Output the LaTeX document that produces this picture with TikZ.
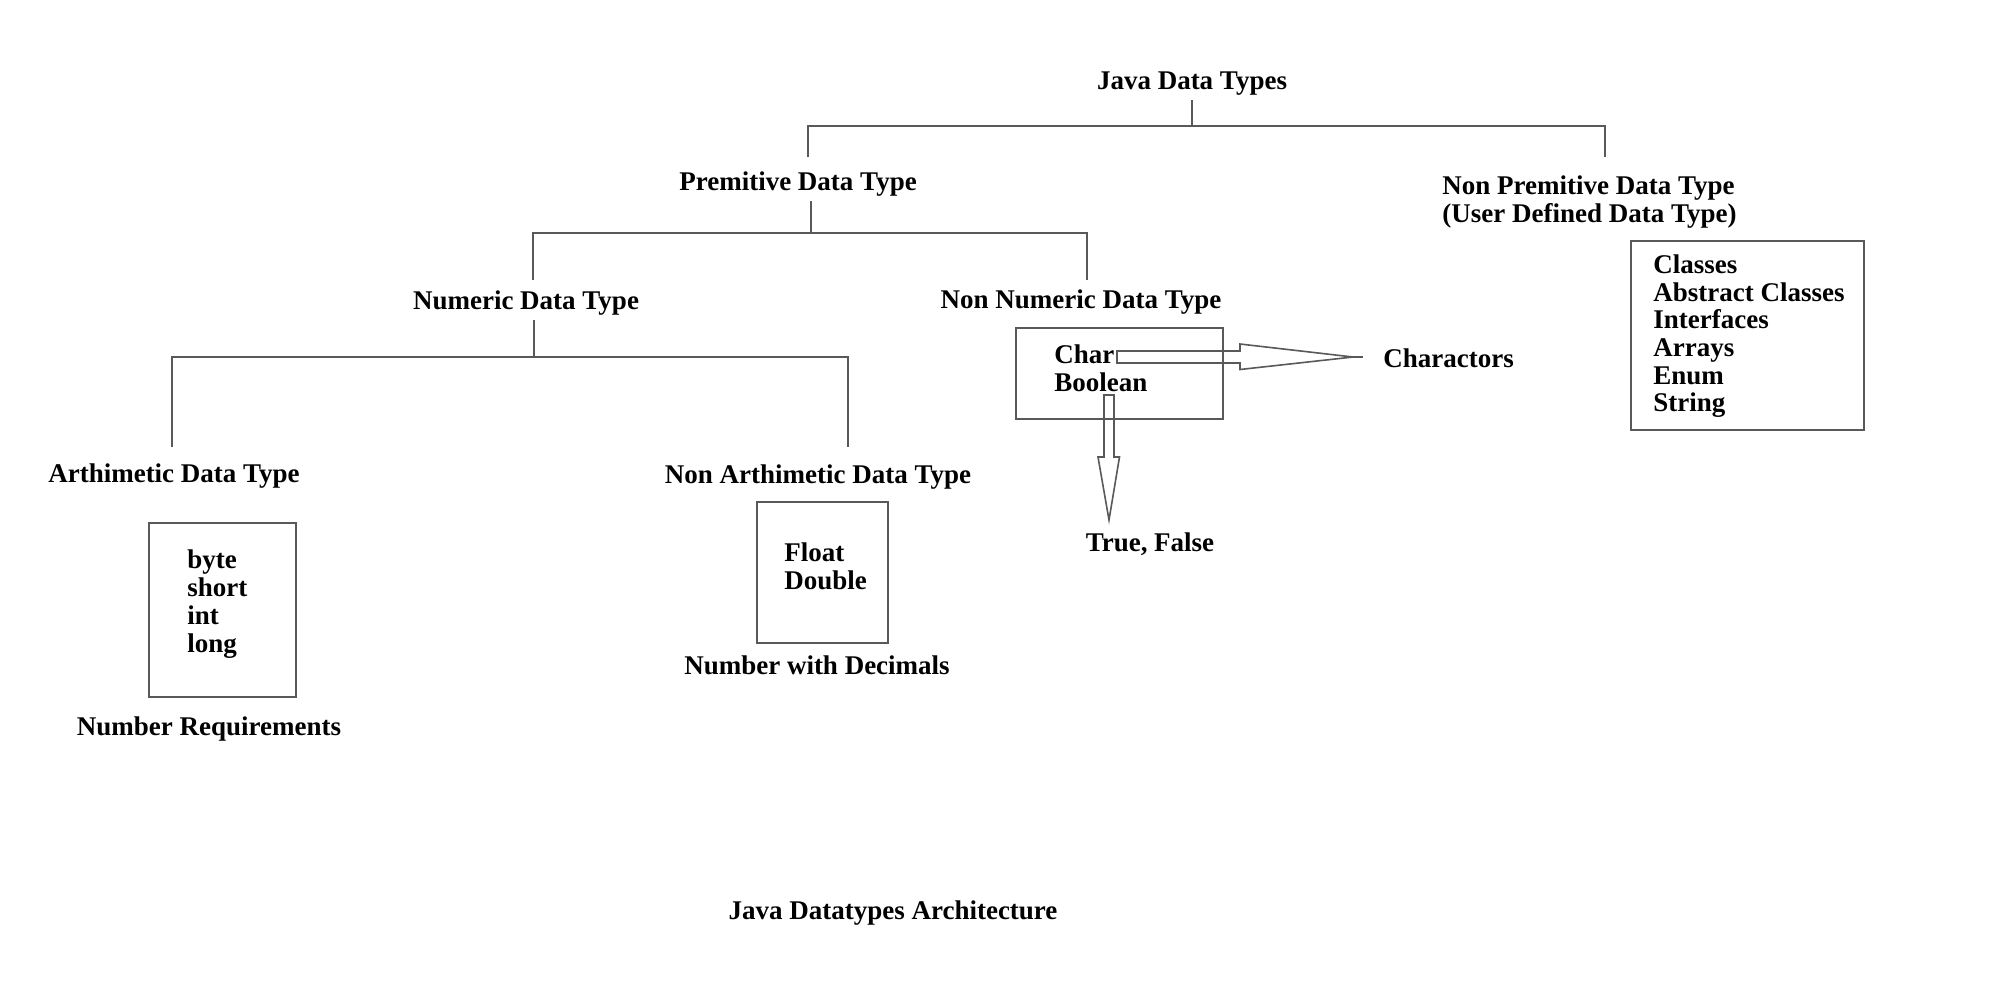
\documentclass[tikz,border=0pt]{standalone}
\usepackage{fontspec}
\setmainfont{Liberation Serif}

\begin{document}
\begin{tikzpicture}[x=0.5pt,y=-0.5pt,
		lbl/.style={font=\fontsize{13.5}{16}\selectfont\bfseries, anchor=base, inner sep=2.5pt},
		item/.style={font=\fontsize{13.5}{16}\selectfont\bfseries, anchor=base west, inner sep=0pt},
		conn/.style={draw=black!65, line width=1pt},
		box/.style={draw=black!65, line width=1pt},
		blk/.style={draw=black!65, line width=0.8pt, line join=miter}]
		%draw canvas
		\fill[white] (0,0) rectangle (1999,993);
		\useasboundingbox (0,0) rectangle (1999,993);
		%draw tree labels
		\node[lbl] (java) at (1192,89) {Java Data Types};
		\node[lbl] (prim) at (798,190) {Premitive Data Type};
		\node[item] (nprima) at (1442,194) {Non Premitive Data Type};
		\node[item] (nprimb) at (1442,222.5) {(User Defined Data Type)};
		\node[lbl] (num) at (526,309) {Numeric Data Type};
		\node[lbl] (nnum) at (1081,308) {Non Numeric Data Type};
		\node[lbl] (ari) at (174,482) {Arthimetic Data Type};
		\node[lbl] (nari) at (818,483) {Non Arthimetic Data Type};
		%draw branch points
		\coordinate (jbar) at (1192,126);
		\coordinate (primtop) at (808,157);
		\coordinate (nprimtop) at (1605,157);
		\coordinate (pbar) at (811,233);
		\coordinate (numtop) at (533,280);
		\coordinate (nnumtop) at (1087,280);
		\coordinate (nbar) at (534,357);
		\coordinate (aritop) at (172,447);
		\coordinate (naritop) at (848,447);
		%draw tree lines
		\draw[conn] (java.south) -- (jbar);
		\draw[conn] (primtop) |- (jbar) -| (nprimtop);
		\draw[conn] (prim.south -| pbar) -- (pbar);
		\draw[conn] (numtop) |- (pbar) -| (nnumtop);
		\draw[conn] (num.south -| nbar) -- (nbar);
		\draw[conn] (aritop) |- (nbar) -| (naritop);
		%draw boxes
		\draw[box] (149,523) rectangle (296,697);
		\draw[box] (757,502) rectangle (888,643);
		\draw[box] (1016,328) rectangle (1223,419);
		\draw[box] (1631,241) rectangle (1864,430);
		%draw box contents
		\foreach \t [count=\i] in {byte, short, int, long}{
			\node[item] (nb\i) at (187,{568+28*(\i-1)}) {\t};
		}
		\node[item] (flt) at (784,561) {Float};
		\node[item] (dbl) at (784,589) {Double};
		\node[item] (chr) at (1054,363) {Char};
		\node[item] (bool) at (1054,391) {Boolean};
		\foreach \t [count=\i] in {Classes, Abstract Classes, Interfaces, Arrays, Enum, String}{
			\node[item] (cl\i) at (1653,{273.3+27.7*(\i-1)}) {\t};
		}
		%draw notes
		\node[lbl] (numreq) at (209,735) {Number Requirements};
		\node[lbl] (numdec) at (817,674) {Number with Decimals};
		\node[item] (chs) at (1383,367) {Charactors};
		\node[lbl] (tf) at (1150,551) {True, False};
		\node[lbl] (title) at (893,919) {Java Datatypes Architecture};
		%draw block arrows
		\coordinate (ctail) at (1117,357);
		\coordinate (ctip) at (1353,357);
		\draw[blk] (ctail) ++(0,-6) -- ++(123,0) -- ++(0,-7) -- (ctip) -- ++(-113,12.5) -- ++(0,-6.5) -- ++(-123,0) -- cycle;
		\draw[blk] (ctip) -- ++(10,0);
		\coordinate (btail) at (1109,395);
		\coordinate (btip) at (1109,520);
		\draw[blk] (btail) ++(-5,0) -- ++(0,62) -- ++(-6,0) -- (btip) -- ++(10.5,-63) -- ++(-5.5,0) -- ++(0,-62) -- cycle;
		
\end{tikzpicture}
\end{document}
